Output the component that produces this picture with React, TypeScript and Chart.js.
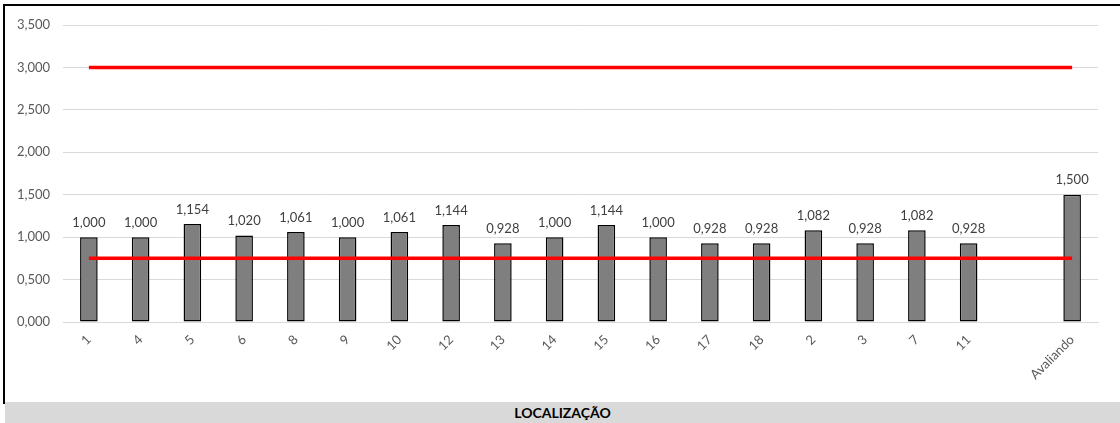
import React, { useEffect, useRef } from "react";
import { Chart, registerables } from "chart.js";

Chart.register(...registerables);

const categories = ["1", "4", "5", "6", "8", "9", "10", "12", "13", "14", "15", "16", "17", "18", "2", "3", "7", "11", "", "Avaliando"];
const barValues = [1.0, 1.0, 1.154, 1.02, 1.061, 1.0, 1.061, 1.144, 0.928, 1.0, 1.144, 1.0, 0.928, 0.928, 1.082, 0.928, 1.082, 0.928, null, 1.5];
const upperLimit = [3, 3, 3, 3, 3, 3, 3, 3, 3, 3, 3, 3, 3, 3, 3, 3, 3, 3, 3, 3];
const lowerLimit = [0.75, 0.75, 0.75, 0.75, 0.75, 0.75, 0.75, 0.75, 0.75, 0.75, 0.75, 0.75, 0.75, 0.75, 0.75, 0.75, 0.75, 0.75, 0.75, 0.75];
const yTicks = [0, 0.5, 1, 1.5, 2, 2.5, 3, 3.5];
const title = "LOCALIZAÇÃO";

const FONT = "Lato, 'Noto Sans', sans-serif";
const fmt = (v: number) => v.toFixed(3).replace(".", ",");

const labelPlugin = {
  id: "barLabels",
  afterDatasetsDraw(chart: any) {
    const ctx = chart.ctx;
    const meta = chart.getDatasetMeta(0);
    ctx.save();
    ctx.font = `13px ${FONT}`;
    ctx.fillStyle = "#404040";
    ctx.textAlign = "center";
    ctx.textBaseline = "bottom";
    meta.data.forEach((el: any, i: number) => {
      const v = barValues[i];
      if (v === null || v === undefined) return;
      ctx.fillText(fmt(v), el.x, el.y - 8);
    });
    ctx.restore();
  },
};

export default function App() {
  const ref = useRef<HTMLCanvasElement>(null);
  useEffect(() => {
    document.body.style.margin = "0";
    const chart = new Chart(ref.current!, {
      type: "bar",
      data: {
        labels: categories,
        datasets: [
          {
            type: "bar",
            data: barValues as any,
            backgroundColor: "#7f7f7f",
            borderColor: "#000000",
            borderWidth: 1.5,
            borderSkipped: false,
            categoryPercentage: 1,
            barPercentage: 0.34,
            order: 2,
          },
          {
            type: "line",
            data: upperLimit,
            borderColor: "#ff0000",
            borderWidth: 3.5,
            pointRadius: 0,
            fill: false,
            order: 1,
          },
          {
            type: "line",
            data: lowerLimit,
            borderColor: "#ff0000",
            borderWidth: 3.5,
            pointRadius: 0,
            fill: false,
            order: 1,
          },
        ] as any,
      },
      options: {
        animation: false,
        responsive: false,
        maintainAspectRatio: false,
        layout: { padding: { left: 0, top: 25, right: 22, bottom: 0 } },
        plugins: { legend: { display: false }, tooltip: { enabled: false } },
        scales: {
          x: {
            grid: { display: false, drawTicks: false },
            border: { color: "#d9d9d9", width: 1 },
            ticks: {
              color: "#595959",
              font: { family: FONT, size: 13 },
              minRotation: 45,
              maxRotation: 45,
              padding: 10,
              autoSkip: false,
            },
            afterFit(scale: any) {
              scale.height = 78;
            },
          },
          y: {
            min: 0,
            max: 3.5,
            afterBuildTicks(scale: any) {
              scale.ticks = yTicks.map((v) => ({ value: v }));
            },
            grid: { color: "#d9d9d9", lineWidth: 1, drawTicks: false },
            border: { display: false },
            ticks: {
              color: "#595959",
              font: { family: FONT, size: 13 },
              padding: 13,
              callback: (v: any) => fmt(Number(v)),
            },
            afterFit(scale: any) {
              scale.width = 63;
            },
          },
        },
      },
      plugins: [labelPlugin],
    });
    return () => chart.destroy();
  }, []);

  return (
    <div style={{ position: "relative", width: 1120, height: 423, overflow: "hidden", background: "#fff" }}>
      <div
        style={{
          position: "absolute",
          left: 3,
          top: 4,
          width: 1130,
          height: 396,
          border: "2px solid #000",
          boxSizing: "content-box",
        }}
      />
      <canvas ref={ref} width={1120} height={400} style={{ position: "absolute", left: 0, top: 0, width: 1120, height: 400 }} />
      <div
        style={{
          position: "absolute",
          left: 5,
          top: 402,
          width: 1115,
          height: 21,
          background: "#d9d9d9",
          display: "flex",
          alignItems: "center",
          justifyContent: "center",
          fontFamily: FONT,
          fontWeight: "bold",
          fontSize: 14,
          color: "#000",
        }}
      >
        {title}
      </div>
    </div>
  );
}
